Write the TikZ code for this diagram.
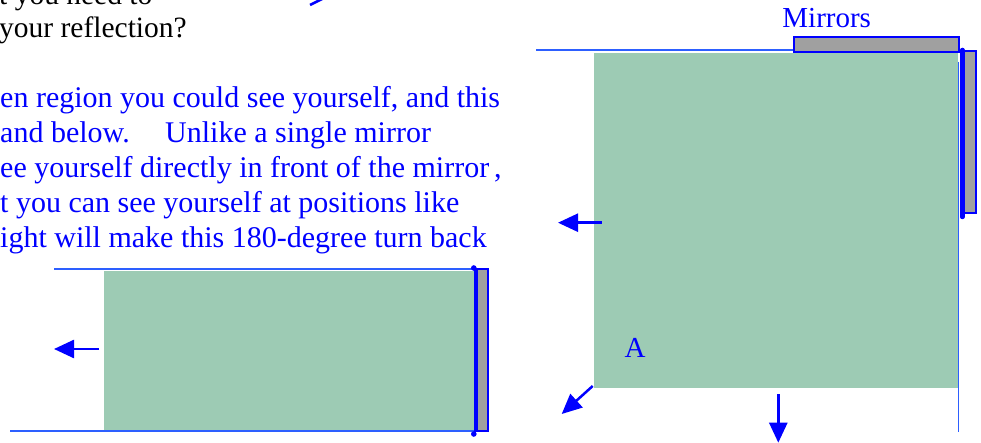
\documentclass[tikz,border=0pt]{standalone}
\usepackage{fontspec}
\setmainfont{Liberation Serif}
\usetikzlibrary{arrows.meta}
\definecolor{zone}{RGB}{157,203,180}
\definecolor{edge}{RGB}{45,95,255}
\definecolor{mgray}{RGB}{160,160,160}
\begin{document}
\begin{tikzpicture}[x=1pt,y=-1pt,
  txt/.style={anchor=base west,inner sep=0pt,font=\fontsize{29.5}{35}\selectfont},
  bluetxt/.style={anchor=base west,inner sep=0pt,text=blue,font=\fontsize{30}{35}\selectfont},
  region/.style={fill=zone,draw=none},
  rim/.style={draw=edge,line width=2pt},
  mirror/.style={fill=mgray,draw=blue,line width=2pt},
  motion/.style={draw=blue,line width=2.5pt,-{Triangle[length=20pt,width=18pt]}}]
\useasboundingbox (0,0) rectangle (981,443);

% ---- text ----
\node[txt] (t1) at (-1,5) {t you need to};
\node[txt] (t2) at (-1,38) {your reflection?};
\node[bluetxt] (b1) at (0,108) {en region you could see yourself, and this};
\node[bluetxt] (b2) at (0,143) {and below.};
\node[bluetxt] (b2b) at (165,143) {Unlike a single mirror};
\node[bluetxt] (b3) at (0,178) {ee yourself directly in front of the mirror\,,};
\node[bluetxt] (b4) at (0,213) {t you can see yourself at positions like};
\node[bluetxt] (b5) at (0,248) {ight will make this 180-degree turn back};

% partial arrow at top
\coordinate (pa1) at (310,5);
\coordinate (pa2) at (324,-2);
\draw[blue,line width=2.5pt] (pa1) -- (pa2);

% ---- lower-left diagram ----
\fill[region] (104,271) rectangle (476,430);
\draw[rim] (54,269) -- (475,269);
\draw[rim] (10,431) -- (488,431);
\draw[mirror] (476.7,269) rectangle (488.3,431);
\draw[blue,line width=1.5pt] (475,268) -- (475,434);
\fill[blue] (473.8,268) circle (2.8pt);
\fill[blue] (473.8,434) circle (2.8pt);
\coordinate (la1) at (99,349);
\coordinate (la2) at (54,349);
\draw[motion] (la1) -- (la2);

% ---- right diagram ----
\fill[region] (594,52.7) rectangle (957.7,388);
\draw[edge,line width=1.5pt] (958.3,62) -- (958.3,432);
\draw[rim] (536,50.5) -- (960,50.5);
\draw[mirror] (794,36.7) rectangle (958.7,51.7);
\draw[mirror] (962.7,50.7) rectangle (976,212.7);
\draw[blue,line width=4.5pt,line cap=round] (962.3,50) -- (962.3,217);

\node[anchor=base,inner sep=0pt,text=blue,font=\fontsize{29}{35}\selectfont] (mir) at (826.7,27.3) {Mirrors};
\node[anchor=base,inner sep=0pt,text=blue,font=\fontsize{29}{35}\selectfont] (A) at (635,357.3) {A};

\coordinate (ra1) at (601.7,222.7);
\coordinate (ra2) at (558,222.7);
\draw[motion] (ra1) -- (ra2);
\coordinate (da1) at (592.7,386);
\coordinate (da2) at (561.7,414);
\draw[motion] (da1) -- (da2);
\coordinate (va1) at (778.3,394);
\coordinate (va2) at (778.3,442.7);
\draw[motion] (va1) -- (va2);
\end{tikzpicture}
\end{document}
